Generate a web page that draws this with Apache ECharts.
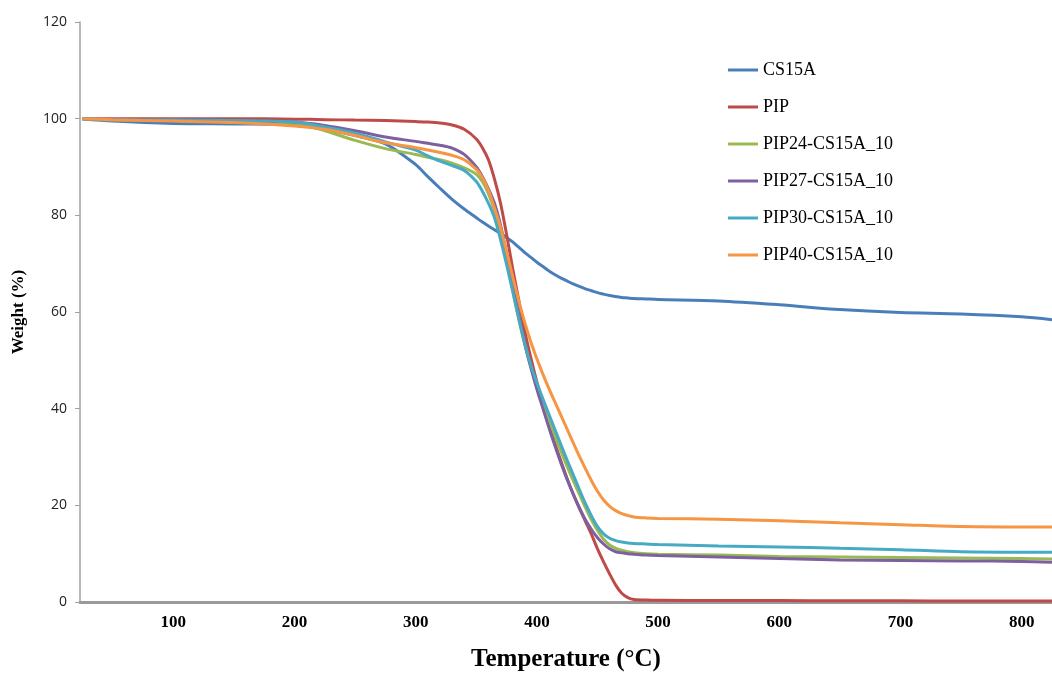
<!DOCTYPE html>
<html>
<head>
<meta charset="utf-8">
<script src="https://cdn.jsdelivr.net/npm/echarts@6/dist/echarts.min.js"></script>
<style>html,body{margin:0;padding:0;background:#fff}#chart{width:1052px;height:675px}</style>
</head>
<body>
<div id="chart"></div>
<script>
const temps = [25, 50, 100, 150, 200, 225, 250, 275, 300, 310, 320, 330, 340, 350, 355, 360, 365, 370, 375, 380, 385, 390, 395, 400, 405, 410, 415, 420, 425, 430, 435, 440, 445, 450, 455, 460, 465, 470, 475, 480, 490, 500, 550, 600, 650, 700, 750, 800, 825];
const xTicks = [100, 200, 300, 400, 500, 600, 700, 800];
const seriesNames = ['CS15A', 'PIP', 'PIP24-CS15A_10', 'PIP27-CS15A_10', 'PIP30-CS15A_10', 'PIP40-CS15A_10'];

const cs15a = [100, 99.5, 99.0, 98.9, 98.7, 97.8, 96.5, 94.8, 90.5, 88.0, 85.6, 83.3, 81.3, 79.5, 78.6, 77.8, 77.0, 76.3, 75.4, 74.5, 73.4, 72.3, 71.3, 70.3, 69.4, 68.5, 67.7, 67.0, 66.4, 65.8, 65.3, 64.8, 64.4, 64.0, 63.7, 63.4, 63.2, 63.0, 62.9, 62.8, 62.7, 62.6, 62.3, 61.5, 60.5, 59.9, 59.6, 59.0, 58.4];
const pip = [100, 100, 100, 100, 99.9, 99.8, 99.7, 99.6, 99.4, 99.3, 99.1, 98.7, 97.8, 95.8, 94.0, 91.5, 87.5, 82.5, 76.0, 69.0, 62.5, 56.0, 50.5, 45.5, 41.0, 36.7, 32.7, 29.0, 25.5, 22.3, 19.4, 16.7, 14.0, 11.0, 8.3, 5.8, 3.5, 1.8, 0.9, 0.5, 0.4, 0.35, 0.3, 0.3, 0.25, 0.25, 0.2, 0.2, 0.2];
const pip24 = [100, 99.7, 99.6, 99.4, 99.0, 97.5, 95.5, 93.8, 92.6, 92.0, 91.5, 90.8, 89.8, 88.5, 87.0, 84.5, 81.0, 76.0, 70.5, 64.5, 58.5, 53.2, 48.6, 44.6, 41.0, 37.6, 34.3, 31.1, 28.0, 25.1, 22.3, 19.6, 17.0, 14.8, 13.0, 11.8, 11.1, 10.7, 10.4, 10.2, 10.0, 9.9, 9.7, 9.4, 9.3, 9.2, 9.1, 9.0, 8.9];
const pip27 = [100, 99.8, 99.8, 99.6, 99.3, 98.6, 97.5, 96.2, 95.3, 94.9, 94.5, 93.9, 92.6, 90.0, 88.0, 85.5, 82.5, 78.0, 72.0, 65.8, 59.5, 53.5, 48.5, 44.0, 40.0, 36.0, 32.2, 28.6, 25.3, 22.3, 19.5, 17.0, 15.0, 13.3, 12.0, 11.0, 10.4, 10.2, 10.0, 9.9, 9.7, 9.6, 9.3, 9.0, 8.7, 8.6, 8.5, 8.4, 8.2];
const pip30 = [100, 99.8, 99.7, 99.6, 99.3, 98.3, 97.0, 95.2, 93.5, 92.3, 91.2, 90.3, 89.3, 87.0, 85.0, 82.5, 79.5, 75.0, 69.8, 64.3, 58.7, 53.5, 49.0, 45.3, 42.0, 38.8, 35.6, 32.4, 29.3, 26.3, 23.3, 20.4, 17.8, 15.6, 14.1, 13.2, 12.7, 12.4, 12.2, 12.1, 12.0, 11.9, 11.6, 11.4, 11.1, 10.8, 10.4, 10.3, 10.3];
const pip40 = [100, 99.8, 99.5, 99.2, 98.5, 97.8, 96.5, 95.0, 94.0, 93.5, 93.0, 92.4, 91.5, 89.5, 87.8, 85.2, 81.5, 77.5, 72.5, 67.3, 62.3, 57.8, 53.8, 50.3, 47.1, 44.1, 41.3, 38.5, 35.7, 32.9, 30.2, 27.6, 25.1, 22.9, 21.1, 19.8, 18.9, 18.3, 17.9, 17.6, 17.4, 17.3, 17.1, 16.8, 16.4, 16.0, 15.6, 15.5, 15.5];

const allValues = [cs15a, pip, pip24, pip27, pip30, pip40];
const colors = ['#4A7EBB', '#BE4B48', '#98B954', '#7D60A0', '#46AAC5', '#F69544'];

const chart = echarts.init(document.getElementById('chart'), null, {renderer: 'canvas'});
const series = seriesNames.map((name, k) => ({
  name: name,
  type: 'line',
  symbol: 'none',
  smooth: 0.3,
  data: temps.map((t, i) => [t, allValues[k][i]]),
  lineStyle: {width: 3, color: colors[k]},
  itemStyle: {color: colors[k]},
  emphasis: {disabled: true}
}));

chart.setOption({
  animation: false,
  backgroundColor: '#fff',
  grid: {left: 80, right: 0, top: 22, bottom: 73, containLabel: false, outerBoundsMode: 'none'},
  legend: {
    orient: 'vertical',
    left: 723,
    top: 56,
    icon: 'rect',
    itemWidth: 30,
    itemHeight: 3,
    itemGap: 19,
    data: seriesNames,
    textStyle: {fontFamily: 'Liberation Serif', fontSize: 18, color: '#000', lineHeight: 18}
  },
  xAxis: {
    type: 'value',
    min: 23,
    max: 825,
    name: 'Temperature (°C)',
    nameLocation: 'middle',
    nameGap: 45,
    nameTextStyle: {fontFamily: 'Liberation Serif', fontWeight: 'bold', fontSize: 25, color: '#000'},
    axisLine: {show: true, onZero: false, lineStyle: {color: '#9a9a9a', width: 3}},
    axisTick: {show: false},
    splitLine: {show: false},
    axisLabel: {
      customValues: xTicks,
      margin: 12,
      fontFamily: 'Liberation Serif',
      fontWeight: 'bold',
      fontSize: 17,
      color: '#000'
    }
  },
  yAxis: {
    type: 'value',
    min: 0,
    max: 120,
    interval: 20,
    name: 'Weight (%)',
    nameLocation: 'middle',
    nameGap: 53,
    nameRotate: 90,
    nameTextStyle: {fontFamily: 'Liberation Serif', fontWeight: 'bold', fontSize: 17, color: '#000'},
    axisLine: {show: true, lineStyle: {color: '#a0a0a0', width: 1.5}},
    axisTick: {show: true, length: 5, lineStyle: {color: '#a0a0a0'}},
    splitLine: {show: false},
    axisLabel: {margin: 13, fontFamily: 'Open Sans', fontSize: 14, color: '#222'}
  },
  series: series
});
</script>
</body>
</html>
